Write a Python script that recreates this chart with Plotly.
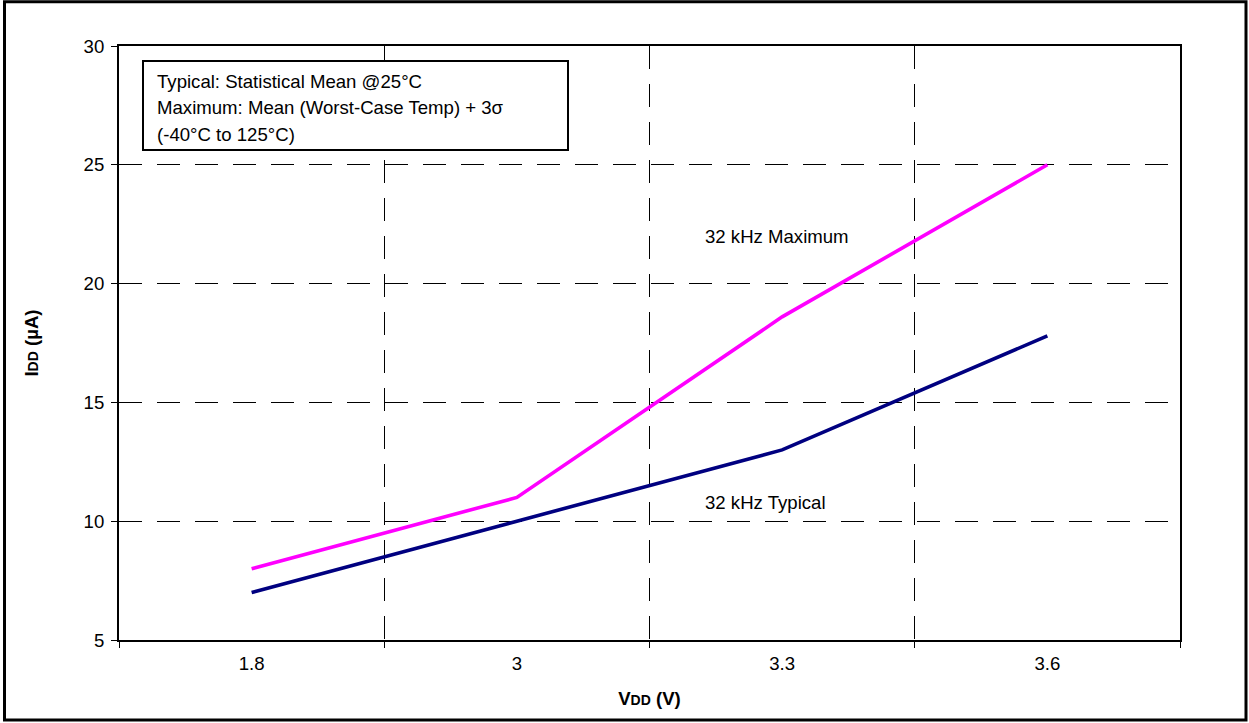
import plotly.graph_objects as go

vdd = ["1.8", "3", "3.3", "3.6"]
idd_max = [8.0, 11.0, 18.6, 25.0]
idd_typ = [7.0, 10.0, 13.0, 17.8]
y_ticks = [5, 10, 15, 20, 25, 30]
note_lines = [
    "Typical: Statistical Mean @25°C",
    "Maximum: Mean (Worst-Case Temp) + 3σ",
    "(-40°C to 125°C)",
]

FONT = "Liberation Sans, Arial, sans-serif"
DASH = "23px,15px"

# plot area in page pixels
L, R, T, B = 119, 1180, 46, 640
PW, PH = R - L, B - T


def px(x):
    return (x - L) / PW


def py(y):
    return (B - y) / PH


fig = go.Figure()
fig.add_trace(go.Scatter(x=vdd, y=idd_max, mode="lines", name="32 kHz Maximum",
                         line=dict(color="#FF00FF", width=3.6)))
fig.add_trace(go.Scatter(x=vdd, y=idd_typ, mode="lines", name="32 kHz Typical",
                         line=dict(color="#000080", width=3.6)))

# series labels
fig.add_annotation(x=1.7, y=22.0, xref="x", yref="y", text="32 kHz Maximum",
                   showarrow=False, xanchor="left", font=dict(size=18.6))
fig.add_annotation(x=1.7, y=10.8, xref="x", yref="y", text="32 kHz Typical",
                   showarrow=False, xanchor="left", font=dict(size=18.6))

# note box
fig.add_shape(type="rect", xref="paper", yref="paper",
              x0=px(143), x1=px(568), y0=py(150), y1=py(61),
              line=dict(color="black", width=2), fillcolor="white", layer="above")
for i, txt in enumerate(note_lines):
    fig.add_annotation(x=px(155), y=py(81 + i * 26.5), xref="paper", yref="paper",
                       text=txt, showarrow=False, xanchor="left", yanchor="middle",
                       font=dict(size=18.6))

# outer frame
fig.add_shape(type="rect", xref="paper", yref="paper",
              x0=px(4.5), x1=px(1246), y0=py(720), y1=py(1.8),
              line=dict(color="black", width=3))

fig.update_layout(
    width=1249, height=723,
    margin=dict(l=L, r=1249 - R, t=T, b=723 - B),
    paper_bgcolor="white", plot_bgcolor="white",
    showlegend=False,
    font=dict(family=FONT, size=18.6, color="black"),
    xaxis=dict(
        type="category", range=[-0.5, 3.5], tickson="boundaries",
        ticks="outside", ticklen=6, tickwidth=1, tickcolor="black",
        showline=True, linecolor="black", linewidth=2, mirror=True,
        showgrid=True, gridcolor="black", gridwidth=1, griddash=DASH,
        ticklabelstandoff=6,
        title=dict(text="<b>V<span style='font-size:14px'>DD</span> (V)</b>",
                   font=dict(size=18.6), standoff=19),
    ),
    yaxis=dict(
        range=[5, 30], tickvals=y_ticks,
        ticks="outside", ticklen=6, tickwidth=1, tickcolor="black",
        showline=True, linecolor="black", linewidth=2, mirror=True,
        showgrid=True, gridcolor="black", gridwidth=1, griddash=DASH,
        zeroline=False, ticklabelstandoff=3,
        title=dict(text="<b>I<span style='font-size:14px'>DD</span> (µA)</b>",
                   font=dict(size=18.6), standoff=40),
    ),
)

fig.write_html("out.html", config={"displayModeBar": False},
               post_script="document.body.style.margin='0';")
